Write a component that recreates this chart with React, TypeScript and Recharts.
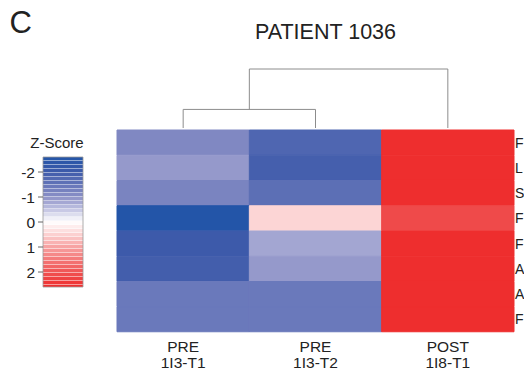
import {
  BarChart,
  Bar,
  Cell,
  XAxis,
  YAxis,
  LineChart,
  Line,
  ComposedChart,
  Scatter,
  ReferenceArea,
} from 'recharts';

const FONT = '"Liberation Sans", Arial, sans-serif';
const TEXT = '#222222';

// samples (columns) and genes (rows, names cut off at the right edge)
const sampleGroups = ['PRE', 'PRE', 'POST'];
const sampleIds = ['1I3-T1', '1I3-T2', '1I8-T1'];
const rowLabels = ['F', 'L', 'S', 'F', 'F', 'A', 'A', 'F'];

// z-scores per sample, one value per row
const zPre1 = [-1.13, -0.9, -1.2, -2.6, -2.0, -1.92, -1.41, -1.41];
const zPre2 = [-1.76, -1.9, -1.59, 0.47, -0.77, -0.9, -1.41, -1.41];
const zPost = [2.6, 2.6, 2.6, 2.17, 2.6, 2.6, 2.6, 2.6];

// dendrogram: PRE1+PRE2 merge first, then with POST
const leafPos = [0.5, 1.5, 2.5];
const mergeHeights = [0.63, 2.0];

// colour bar
const zTicks = [-2, -1, 0, 1, 2];
const Z_MIN = -2.6;
const Z_MAX = 2.6;

const colorStops: [number, string][] = [
  [-2.6, '#2355a8'],
  [-2.0, '#3d5aaa'],
  [-1.5, '#6374b8'],
  [-1.0, '#8a8fc6'],
  [-0.5, '#c0c2e1'],
  [0, '#ffffff'],
  [0.5, '#fcd2d2'],
  [1.0, '#f7a3a3'],
  [1.5, '#f47a7a'],
  [2.0, '#f05555'],
  [2.6, '#ee2e2e'],
];

function hexToRgb(h: string) {
  return [1, 3, 5].map((i) => parseInt(h.slice(i, i + 2), 16));
}

function zColor(z: number): string {
  const v = Math.max(Z_MIN, Math.min(Z_MAX, z));
  for (let i = 1; i < colorStops.length; i++) {
    const [z0, c0] = colorStops[i - 1];
    const [z1, c1] = colorStops[i];
    if (v <= z1) {
      const t = (v - z0) / (z1 - z0);
      const a = hexToRgb(c0);
      const b = hexToRgb(c1);
      const rgb = a.map((x, k) => Math.round(x + (b[k] - x) * t));
      return `rgb(${rgb.join(',')})`;
    }
  }
  return colorStops[colorStops.length - 1][1];
}

const columns = [zPre1, zPre2, zPost];
const colKeys = ['pre1', 'pre2', 'post'];

const heatRows = rowLabels.map((_, i) => ({ key: String(i), pre1: 1, pre2: 1, post: 1 }));

const dendroLow = [
  { x: leafPos[0], y: 0 },
  { x: leafPos[0], y: mergeHeights[0] },
  { x: leafPos[1], y: mergeHeights[0] },
  { x: leafPos[1], y: 0 },
];
const lowMid = (leafPos[0] + leafPos[1]) / 2;
const dendroTop = [
  { x: lowMid, y: mergeHeights[0] },
  { x: lowMid, y: mergeHeights[1] },
  { x: leafPos[2], y: mergeHeights[1] },
  { x: leafPos[2], y: 0 },
];

// legend stripes
const STRIPE = 0.16;
const stripes: { y1: number; y2: number; fill: string }[] = [];
for (let s = Z_MIN; s < Z_MAX - 1e-6; s += STRIPE) {
  stripes.push({ y1: s, y2: Math.min(Z_MAX, s + STRIPE - 0.018), fill: zColor(s + STRIPE / 2) });
}

function SampleTick(props: any) {
  const { x, y, payload } = props;
  const i = Math.round(payload.value - 0.5);
  return (
    <text x={x} y={y} textAnchor="middle" fontSize={15.5} fill={TEXT} fontFamily={FONT}>
      <tspan x={x} dy={19.7}>{sampleGroups[i]}</tspan>
      <tspan x={x} dy={16.6}>{sampleIds[i]}</tspan>
    </text>
  );
}

const layer: React.CSSProperties = { position: 'absolute', left: 0, top: 0 };

export default function App() {
  return (
    <div
      style={{
        position: 'absolute',
        left: 0,
        top: 0,
        width: 524,
        height: 383,
        background: '#fff',
        overflow: 'hidden',
        fontFamily: FONT,
      }}
    >
      {/* heatmap */}
      <div style={layer}>
        <BarChart
          width={524}
          height={383}
          data={heatRows}
          layout="vertical"
          barCategoryGap={0}
          margin={{ top: 130, right: 0, bottom: 0, left: 117 }}
        >
          <XAxis
            type="number"
            domain={[0, 3]}
            ticks={[0.5, 1.5, 2.5]}
            height={51}
            axisLine={false}
            tickLine={false}
            tickSize={0}
            tickMargin={0}
            tick={<SampleTick />}
            interval={0}
          />
          <YAxis
            type="category"
            dataKey="key"
            orientation="right"
            width={10}
            axisLine={false}
            tickLine={false}
            tickSize={0}
            tickMargin={1}
            interval={0}
            tickFormatter={(v) => rowLabels[Number(v)]}
            tick={{ fontSize: 14, fill: TEXT, fontFamily: FONT, textAnchor: 'start' }}
          />
          {colKeys.map((k, c) => (
            <Bar key={k} dataKey={k} stackId="h" isAnimationActive={false}>
              {heatRows.map((_, r) => {
                const col = zColor(columns[c][r]);
                return <Cell key={r} fill={col} stroke={col} strokeWidth={1} />;
              })}
            </Bar>
          ))}
        </BarChart>
      </div>

      {/* column dendrogram */}
      <div style={layer}>
        <LineChart width={524} height={383} margin={{ top: 69, right: 10, bottom: 255, left: 117 }}>
          <XAxis type="number" dataKey="x" domain={[0, 3]} hide />
          <YAxis type="number" domain={[0, mergeHeights[1]]} hide />
          <Line data={dendroLow} dataKey="y" type="linear" stroke="#8c8c8c" strokeWidth={1} dot={false} isAnimationActive={false} />
          <Line data={dendroTop} dataKey="y" type="linear" stroke="#8c8c8c" strokeWidth={1} dot={false} isAnimationActive={false} />
        </LineChart>
      </div>

      {/* z-score colour bar */}
      <div style={layer}>
        <ComposedChart width={90} height={383} margin={{ top: 157, right: 7, bottom: 96, left: 0 }}>
          <XAxis type="number" dataKey="x" domain={[0, 1]} hide />
          <YAxis
            type="number"
            dataKey="z"
            domain={[Z_MIN, Z_MAX]}
            reversed
            ticks={zTicks}
            width={43}
            axisLine={false}
            tickSize={5}
            tickMargin={3}
            tickLine={{ stroke: '#666' }}
            tick={{ fontSize: 15.5, fill: TEXT, fontFamily: FONT }}
          />
          <Scatter
            data={[{ x: 0, z: Z_MIN }, { x: 1, z: Z_MAX }]}
            dataKey="z"
            shape={() => <g />}
            isAnimationActive={false}
          />
          {stripes.map((s, i) => (
            <ReferenceArea key={i} x1={0} x2={1} y1={s.y1} y2={s.y2} fill={s.fill} fillOpacity={1} stroke="none" />
          ))}
          <ReferenceArea x1={0} x2={1} y1={Z_MIN} y2={Z_MAX} fill="none" stroke="#9a9a9a" strokeWidth={0.8} />
        </ComposedChart>
      </div>

      {/* titles */}
      <svg width={524} height={383} style={{ ...layer, pointerEvents: 'none' }}>
        <text x={9.5} y={32.5} fontSize={31} fill={TEXT} fontFamily={FONT}>C</text>
        <text x={255} y={38.7} fontSize={21.5} fill={TEXT} fontFamily={FONT}>PATIENT 1036</text>
        <text x={57} y={148.3} fontSize={15} fill={TEXT} fontFamily={FONT} textAnchor="middle">Z-Score</text>
      </svg>
    </div>
  );
}
